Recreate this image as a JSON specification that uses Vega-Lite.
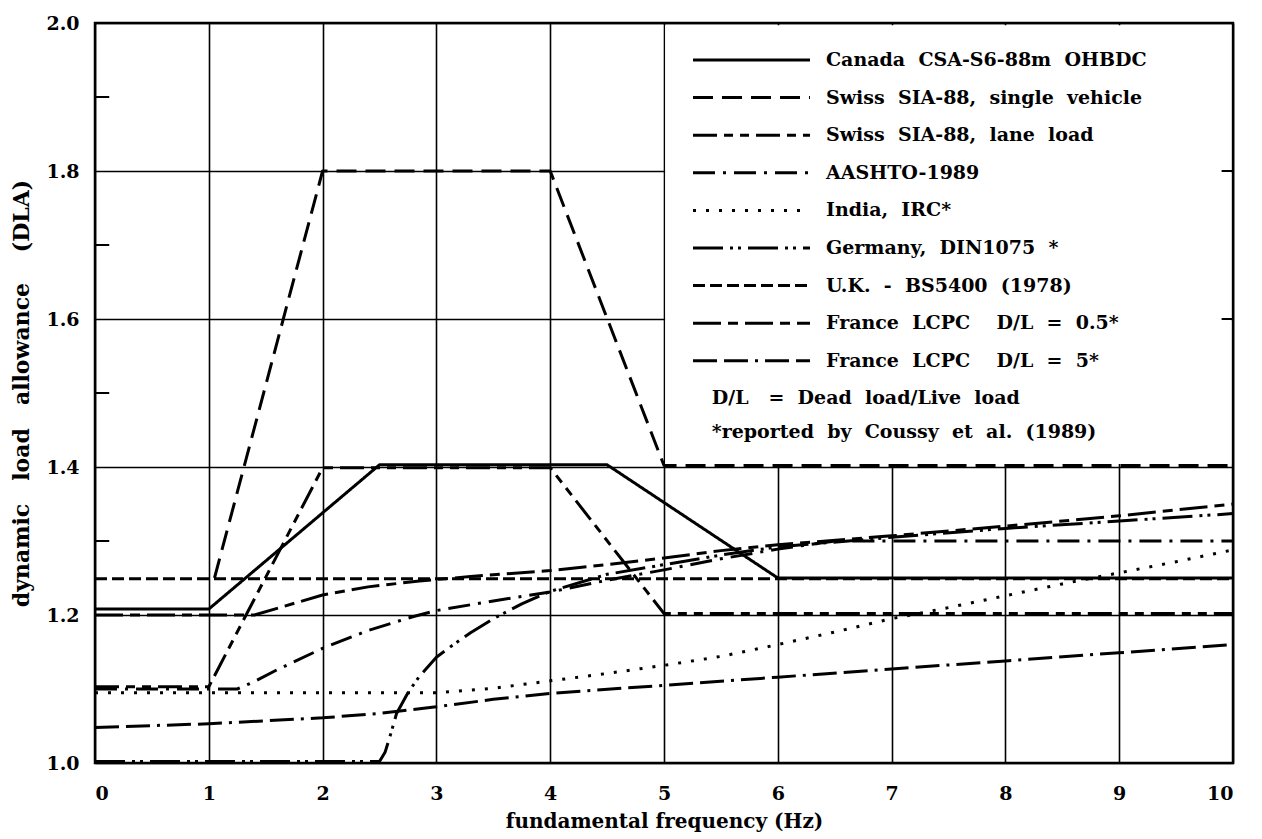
{
  "$schema": "https://vega.github.io/schema/vega-lite/v6.json",
  "width": 1138,
  "height": 740,
  "autosize": {"type": "none"},
  "padding": {"left": 95, "top": 23, "right": 29, "bottom": 76},
  "background": "white",
  "config": {
    "view": {"stroke": "black", "strokeWidth": 2.5},
    "font": "DejaVu Serif",
    "axis": {
      "domain": false,
      "ticks": false,
      "grid": true,
      "gridColor": "black",
      "gridWidth": 1.6,
      "gridOpacity": 1,
      "labelFont": "DejaVu Serif",
      "labelFontSize": 19,
      "labelFontWeight": "bold",
      "labelColor": "black",
      "titleFont": "DejaVu Serif",
      "titleFontSize": 20,
      "titleFontWeight": "bold",
      "titleColor": "black"
    }
  },
  "datasets": {
    "curves": [
      {"series": "Canada CSA-S6-88m OHBDC", "f": 0, "dla": 1.208},
      {"series": "Canada CSA-S6-88m OHBDC", "f": 1, "dla": 1.208},
      {"series": "Canada CSA-S6-88m OHBDC", "f": 2.5, "dla": 1.403},
      {"series": "Canada CSA-S6-88m OHBDC", "f": 4.5, "dla": 1.403},
      {"series": "Canada CSA-S6-88m OHBDC", "f": 6, "dla": 1.25},
      {"series": "Canada CSA-S6-88m OHBDC", "f": 10, "dla": 1.25},

      {"series": "Swiss SIA-88, single vehicle", "f": 1.05, "dla": 1.25},
      {"series": "Swiss SIA-88, single vehicle", "f": 2, "dla": 1.8},
      {"series": "Swiss SIA-88, single vehicle", "f": 4, "dla": 1.8},
      {"series": "Swiss SIA-88, single vehicle", "f": 5, "dla": 1.402},
      {"series": "Swiss SIA-88, single vehicle", "f": 10, "dla": 1.402},

      {"series": "Swiss SIA-88, lane load", "f": 0, "dla": 1.103},
      {"series": "Swiss SIA-88, lane load", "f": 1, "dla": 1.103},
      {"series": "Swiss SIA-88, lane load", "f": 2, "dla": 1.399},
      {"series": "Swiss SIA-88, lane load", "f": 4, "dla": 1.399},
      {"series": "Swiss SIA-88, lane load", "f": 5, "dla": 1.202},
      {"series": "Swiss SIA-88, lane load", "f": 10, "dla": 1.202},

      {"series": "AASHTO-1989", "f": 0, "dla": 1.1},
      {"series": "AASHTO-1989", "f": 1.25, "dla": 1.1},
      {"series": "AASHTO-1989", "f": 1.4, "dla": 1.11},
      {"series": "AASHTO-1989", "f": 1.6, "dla": 1.126},
      {"series": "AASHTO-1989", "f": 2, "dla": 1.155},
      {"series": "AASHTO-1989", "f": 2.4, "dla": 1.179},
      {"series": "AASHTO-1989", "f": 2.8, "dla": 1.198},
      {"series": "AASHTO-1989", "f": 3, "dla": 1.206},
      {"series": "AASHTO-1989", "f": 3.5, "dla": 1.219},
      {"series": "AASHTO-1989", "f": 4, "dla": 1.231},
      {"series": "AASHTO-1989", "f": 4.5, "dla": 1.247},
      {"series": "AASHTO-1989", "f": 5, "dla": 1.261},
      {"series": "AASHTO-1989", "f": 5.5, "dla": 1.276},
      {"series": "AASHTO-1989", "f": 6, "dla": 1.289},
      {"series": "AASHTO-1989", "f": 6.5, "dla": 1.3},
      {"series": "AASHTO-1989", "f": 10, "dla": 1.3},

      {"series": "India, IRC*", "f": 0, "dla": 1.095},
      {"series": "India, IRC*", "f": 3, "dla": 1.095},
      {"series": "India, IRC*", "f": 3.5, "dla": 1.101},
      {"series": "India, IRC*", "f": 4, "dla": 1.111},
      {"series": "India, IRC*", "f": 4.5, "dla": 1.121},
      {"series": "India, IRC*", "f": 5, "dla": 1.132},
      {"series": "India, IRC*", "f": 5.5, "dla": 1.144},
      {"series": "India, IRC*", "f": 6, "dla": 1.16},
      {"series": "India, IRC*", "f": 6.5, "dla": 1.177},
      {"series": "India, IRC*", "f": 7, "dla": 1.195},
      {"series": "India, IRC*", "f": 7.5, "dla": 1.21},
      {"series": "India, IRC*", "f": 8, "dla": 1.226},
      {"series": "India, IRC*", "f": 8.5, "dla": 1.242},
      {"series": "India, IRC*", "f": 9, "dla": 1.257},
      {"series": "India, IRC*", "f": 9.5, "dla": 1.272},
      {"series": "India, IRC*", "f": 10, "dla": 1.288},

      {"series": "Germany, DIN1075 *", "f": 0, "dla": 1.002},
      {"series": "Germany, DIN1075 *", "f": 2.5, "dla": 1.002},
      {"series": "Germany, DIN1075 *", "f": 2.55, "dla": 1.015},
      {"series": "Germany, DIN1075 *", "f": 2.6, "dla": 1.04},
      {"series": "Germany, DIN1075 *", "f": 2.65, "dla": 1.067},
      {"series": "Germany, DIN1075 *", "f": 2.75, "dla": 1.095},
      {"series": "Germany, DIN1075 *", "f": 2.85, "dla": 1.117},
      {"series": "Germany, DIN1075 *", "f": 3, "dla": 1.143},
      {"series": "Germany, DIN1075 *", "f": 3.15, "dla": 1.16},
      {"series": "Germany, DIN1075 *", "f": 3.3, "dla": 1.176},
      {"series": "Germany, DIN1075 *", "f": 3.5, "dla": 1.195},
      {"series": "Germany, DIN1075 *", "f": 3.75, "dla": 1.215},
      {"series": "Germany, DIN1075 *", "f": 4, "dla": 1.232},
      {"series": "Germany, DIN1075 *", "f": 4.5, "dla": 1.255},
      {"series": "Germany, DIN1075 *", "f": 5, "dla": 1.268},
      {"series": "Germany, DIN1075 *", "f": 5.5, "dla": 1.281},
      {"series": "Germany, DIN1075 *", "f": 6, "dla": 1.292},
      {"series": "Germany, DIN1075 *", "f": 7, "dla": 1.305},
      {"series": "Germany, DIN1075 *", "f": 8, "dla": 1.317},
      {"series": "Germany, DIN1075 *", "f": 9, "dla": 1.327},
      {"series": "Germany, DIN1075 *", "f": 10, "dla": 1.337},

      {"series": "U.K. - BS5400 (1978)", "f": 0, "dla": 1.249},
      {"series": "U.K. - BS5400 (1978)", "f": 10, "dla": 1.249},

      {"series": "France LCPC  D/L = 0.5*", "f": 0, "dla": 1.2},
      {"series": "France LCPC  D/L = 0.5*", "f": 1.4, "dla": 1.2},
      {"series": "France LCPC  D/L = 0.5*", "f": 1.6, "dla": 1.209},
      {"series": "France LCPC  D/L = 0.5*", "f": 1.8, "dla": 1.218},
      {"series": "France LCPC  D/L = 0.5*", "f": 2, "dla": 1.227},
      {"series": "France LCPC  D/L = 0.5*", "f": 2.4, "dla": 1.238},
      {"series": "France LCPC  D/L = 0.5*", "f": 2.85, "dla": 1.246},
      {"series": "France LCPC  D/L = 0.5*", "f": 3.3, "dla": 1.252},
      {"series": "France LCPC  D/L = 0.5*", "f": 4, "dla": 1.26},
      {"series": "France LCPC  D/L = 0.5*", "f": 4.5, "dla": 1.268},
      {"series": "France LCPC  D/L = 0.5*", "f": 5, "dla": 1.277},
      {"series": "France LCPC  D/L = 0.5*", "f": 5.5, "dla": 1.287},
      {"series": "France LCPC  D/L = 0.5*", "f": 6, "dla": 1.295},
      {"series": "France LCPC  D/L = 0.5*", "f": 7, "dla": 1.307},
      {"series": "France LCPC  D/L = 0.5*", "f": 8, "dla": 1.32},
      {"series": "France LCPC  D/L = 0.5*", "f": 9, "dla": 1.334},
      {"series": "France LCPC  D/L = 0.5*", "f": 10, "dla": 1.35},

      {"series": "France LCPC  D/L = 5*", "f": 0, "dla": 1.048},
      {"series": "France LCPC  D/L = 5*", "f": 1, "dla": 1.053},
      {"series": "France LCPC  D/L = 5*", "f": 2, "dla": 1.061},
      {"series": "France LCPC  D/L = 5*", "f": 2.5, "dla": 1.067},
      {"series": "France LCPC  D/L = 5*", "f": 3, "dla": 1.076},
      {"series": "France LCPC  D/L = 5*", "f": 3.5, "dla": 1.086},
      {"series": "France LCPC  D/L = 5*", "f": 4, "dla": 1.094},
      {"series": "France LCPC  D/L = 5*", "f": 5, "dla": 1.105},
      {"series": "France LCPC  D/L = 5*", "f": 6, "dla": 1.116},
      {"series": "France LCPC  D/L = 5*", "f": 7, "dla": 1.127},
      {"series": "France LCPC  D/L = 5*", "f": 8, "dla": 1.138},
      {"series": "France LCPC  D/L = 5*", "f": 9, "dla": 1.149},
      {"series": "France LCPC  D/L = 5*", "f": 10, "dla": 1.16}
    ],
    "minorLeft": [{"dla": 1.1}, {"dla": 1.3}, {"dla": 1.5}, {"dla": 1.7}, {"dla": 1.9}],
    "rightTicks": [{"dla": 1.6}, {"dla": 1.8}]
  },
  "layer": [
    {
      "data": {"values": [{"box": "legend"}]},
      "mark": {"type": "rect", "fill": "white", "stroke": null},
      "encoding": {
        "x": {"datum": 5.01, "type": "quantitative", "scale": {"domain": [0, 10], "nice": false, "zero": false}},
        "x2": {"datum": 9.985},
        "y": {"datum": 1.404, "type": "quantitative", "scale": {"domain": [1, 2], "nice": false, "zero": false}},
        "y2": {"datum": 1.997}
      }
    },
    {
      "data": {"name": "curves"},
      "mark": {"type": "line", "strokeWidth": 3, "color": "black", "strokeCap": "butt", "strokeJoin": "round"},
      "encoding": {
        "x": {
          "field": "f", "type": "quantitative",
          "scale": {"domain": [0, 10], "nice": false, "zero": false},
          "axis": {"values": [0, 1, 2, 3, 4, 5, 6, 7, 8, 9, 10], "title": "fundamental frequency (Hz)", "labelPadding": 21, "titlePadding": 8, "format": "d"}
        },
        "y": {
          "field": "dla", "type": "quantitative",
          "scale": {"domain": [1, 2], "nice": false, "zero": false},
          "axis": {"values": [1.0, 1.2, 1.4, 1.6, 1.8, 2.0], "format": ".1f", "title": "dynamic\u00a0\u00a0\u00a0load\u00a0\u00a0\u00a0allowance\u00a0\u00a0\u00a0\u00a0(DLA)", "titleFontSize": 22, "labelPadding": 16, "titlePadding": 12}
        },
        "strokeDash": {
          "field": "series", "type": "nominal",
          "scale": {
            "domain": ["Canada CSA-S6-88m OHBDC", "Swiss SIA-88, single vehicle", "Swiss SIA-88, lane load", "AASHTO-1989", "India, IRC*", "Germany, DIN1075 *", "U.K. - BS5400 (1978)", "France LCPC  D/L = 0.5*", "France LCPC  D/L = 5*"],
            "range": [[1, 0], [20, 9], [24, 7, 9, 7, 9, 7], [22, 8, 3, 8], [3, 10], [30, 7, 3, 5, 3, 7], [12, 5], [28, 7, 10, 7], [24, 7, 24, 7, 3, 7]]
          },
          "legend": {
            "orient": "none", "legendX": 630, "legendY": 10.5, "title": null,
            "symbolType": "M-2.34,0H2.34", "symbolSize": 2500, "symbolStrokeWidth": 3, "symbolStrokeColor": "black", "symbolFillColor": "transparent",
            "labelFont": "DejaVu Serif", "labelFontSize": 19, "labelFontWeight": "bold", "labelColor": "black", "labelLimit": 0,
            "labelExpr": "replace(datum.label, regexp(' ', 'g'), '\u00a0\u00a0')",
            "rowPadding": 0.6, "labelOffset": 48, "padding": 0
          }
        }
      }
    },
    {
      "data": {"name": "minorLeft"},
      "mark": {"type": "rule", "color": "black", "strokeWidth": 2},
      "encoding": {
        "y": {"field": "dla", "type": "quantitative"},
        "x": {"datum": 0, "type": "quantitative"},
        "x2": {"datum": 0.125}
      }
    },
    {
      "data": {"name": "rightTicks"},
      "mark": {"type": "rule", "color": "black", "strokeWidth": 2},
      "encoding": {
        "y": {"field": "dla", "type": "quantitative"},
        "x": {"datum": 9.9, "type": "quantitative"},
        "x2": {"datum": 10}
      }
    },
    {
      "data": {"values": [{"note": "D/L\u00a0\u00a0\u00a0=\u00a0\u00a0Dead\u00a0\u00a0load/Live\u00a0\u00a0load"}]},
      "mark": {"type": "text", "align": "left", "baseline": "middle", "fontSize": 19, "fontWeight": "bold", "font": "DejaVu Serif", "color": "black"},
      "encoding": {
        "x": {"datum": 5.42, "type": "quantitative"},
        "y": {"datum": 1.493, "type": "quantitative"},
        "text": {"field": "note"}
      }
    },
    {
      "data": {"values": [{"note": "*reported\u00a0\u00a0by\u00a0\u00a0Coussy\u00a0\u00a0et\u00a0\u00a0al.\u00a0\u00a0(1989)"}]},
      "mark": {"type": "text", "align": "left", "baseline": "middle", "fontSize": 19, "fontWeight": "bold", "font": "DejaVu Serif", "color": "black"},
      "encoding": {
        "x": {"datum": 5.42, "type": "quantitative"},
        "y": {"datum": 1.447, "type": "quantitative"},
        "text": {"field": "note"}
      }
    }
  ]
}
